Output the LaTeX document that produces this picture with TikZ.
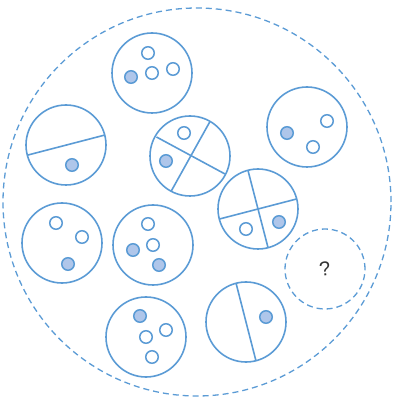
\documentclass[tikz,border=0pt]{standalone}
\usepackage{fontspec}
\setmainfont{Liberation Sans}
\definecolor{bl}{HTML}{5B9BD5}
\definecolor{dotfill}{HTML}{AFC6EA}
\begin{document}
\begin{tikzpicture}[x=1pt,y=-1pt,
  grp/.style={circle,draw=bl,line width=1.6pt,minimum size=80pt,inner sep=0pt},
  opn/.style={circle,draw=bl,line width=1.5pt,fill=white,minimum size=12.5pt,inner sep=0pt},
  fil/.style={circle,draw=bl,line width=1.5pt,fill=dotfill,minimum size=12.5pt,inner sep=0pt},
  split/.style={draw=bl,line width=1.6pt},
  dsh/.style={dash pattern=on 6pt off 4pt,line width=1.3pt}]
\useasboundingbox (0,0) rectangle (418,398);
\node[circle,draw=bl,dsh,minimum size=388pt,inner sep=0pt] (big) at (197,202) {};
% group 1
\node[grp] (g1) at (152,73) {};
\node[opn] (g1a) at (148,53) {};
\node[opn] (g1b) at (173,69) {};
\node[opn] (g1c) at (152,73) {};
\node[fil] (g1d) at (131,77) {};
% group 2
\node[grp] (g2) at (66,145) {};
\draw[split] (28,155) -- (105,135);
\node[fil] (g2a) at (72,165) {};
% group 3
\node[grp] (g3) at (190,156) {};
\draw[split] (156.5,137) -- (225,174);
\draw[split] (210,121.5) -- (171,191.5);
\node[opn] (g3a) at (184,133) {};
\node[fil] (g3b) at (166,161) {};
% group 4
\node[grp] (g4) at (307,127) {};
\node[opn] (g4a) at (327,121) {};
\node[opn] (g4b) at (313,147) {};
\node[fil] (g4c) at (287,133) {};
% group 5
\node[grp] (g5) at (258,209) {};
\draw[split] (248,170.5) -- (268,247.5);
\draw[split] (219.5,219) -- (296.5,199);
\node[opn] (g5a) at (246,229) {};
\node[fil] (g5b) at (279,222) {};
% group 6
\node[grp,dsh] (g6) at (325,269) {};
\node[text=black!80,font=\fontsize{20}{20}\selectfont,rotate=8] (q) at (325,269) {?};
% group 7
\node[grp] (g7) at (62,243) {};
\node[opn] (g7a) at (56,223) {};
\node[opn] (g7b) at (82,237) {};
\node[fil] (g7c) at (68,264) {};
% group 8
\node[grp] (g8) at (153,245) {};
\node[opn] (g8a) at (148,224) {};
\node[opn] (g8b) at (153,245) {};
\node[fil] (g8c) at (133,250) {};
\node[fil] (g8d) at (159,265) {};
% group 9
\node[grp] (g9) at (146,337) {};
\node[fil] (g9a) at (140,316) {};
\node[opn] (g9b) at (166,330) {};
\node[opn] (g9c) at (146,337) {};
\node[opn] (g9d) at (152,357) {};
% group 10
\node[grp] (g10) at (246,322) {};
\draw[split] (236,283) -- (256,361);
\node[fil] (g10a) at (266,317) {};
\end{tikzpicture}
\end{document}
